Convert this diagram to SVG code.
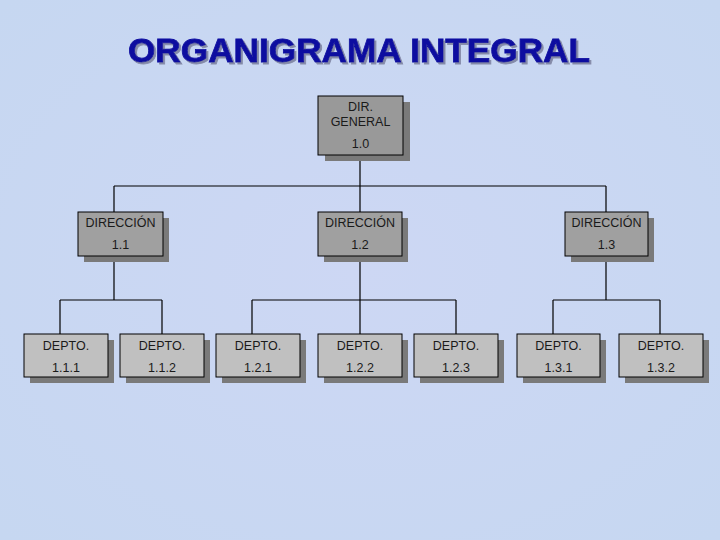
<svg xmlns="http://www.w3.org/2000/svg" width="720" height="540" viewBox="0 0 720 540">
<defs>
<style>
.sh{fill:#7a7a7a}
.b1{fill:#999999;stroke:#000;stroke-width:1}
.b2{fill:#a0a0a0;stroke:#000;stroke-width:1}
.b3{fill:#c0c0c0;stroke:#000;stroke-width:1}
.t{font-family:"Liberation Sans",Arial,sans-serif;font-size:12.5px;fill:#1a1a1a;text-anchor:middle}
.ln{stroke:#000;stroke-width:1.2;fill:none}
.ti{font-family:"Liberation Sans",Arial,sans-serif;font-weight:bold;font-size:33px;fill:#0b0ba0;stroke:#0b0ba0;stroke-width:0.8}
</style>
<radialGradient id="bgp" cx="50%" cy="50%" r="70%">
<stop offset="0" stop-color="#cdd7f4"/>
<stop offset="1" stop-color="#c6d7f1"/>
</radialGradient>
<filter id="tsh" x="-5%" y="-20%" width="110%" height="150%">
<feDropShadow dx="2" dy="2" stdDeviation="0.4" flood-color="#7d82a0" flood-opacity="0.9"/>
</filter>
</defs>
<rect x="0" y="0" width="720" height="540" fill="url(#bgp)"/>
<g id="title">
<text class="ti" x="128" y="62" filter="url(#tsh)" textLength="462" lengthAdjust="spacingAndGlyphs">ORGANIGRAMA INTEGRAL</text>
</g>
<g id="connectors">
<path class="ln" d="M360 161V186M114 186H606M114 186V212M360 186V212M606 186V212"/>
<path class="ln" d="M114 262V300M60 300H162M60 300V334M162 300V334"/>
<path class="ln" d="M360 262V300M252 300H456M252 300V334M360 300V334M456 300V334"/>
<path class="ln" d="M606 262V300M553 300H660M553 300V334M660 300V334"/>
</g>
<g id="n10">
<rect class="sh" x="325" y="102" width="85" height="59"/>
<rect class="b1" x="318" y="96" width="85" height="59"/>
<text class="t" x="360.5" y="111">DIR.</text>
<text class="t" x="360.5" y="126">GENERAL</text>
<text class="t" x="360.5" y="148">1.0</text>
</g>
<g id="n11">
<rect class="sh" x="84" y="218" width="85" height="44"/>
<rect class="b2" x="78" y="212" width="85" height="44"/>
<text class="t" x="120.5" y="227">DIRECCIÓN</text>
<text class="t" x="120.5" y="249">1.1</text>
</g>
<g id="n12">
<rect class="sh" x="324" y="218" width="84" height="44"/>
<rect class="b2" x="318" y="212" width="84" height="44"/>
<text class="t" x="360" y="227">DIRECCIÓN</text>
<text class="t" x="360" y="249">1.2</text>
</g>
<g id="n13">
<rect class="sh" x="571" y="218" width="83" height="44"/>
<rect class="b2" x="565" y="212" width="83" height="44"/>
<text class="t" x="606.5" y="227">DIRECCIÓN</text>
<text class="t" x="606.5" y="249">1.3</text>
</g>
<g id="n111">
<rect class="sh" x="30" y="340" width="84" height="43"/>
<rect class="b3" x="24" y="334" width="84" height="43"/>
<text class="t" x="66" y="350">DEPTO.</text>
<text class="t" x="66" y="372">1.1.1</text>
</g>
<g id="n112">
<rect class="sh" x="126" y="340" width="84" height="43"/>
<rect class="b3" x="120" y="334" width="84" height="43"/>
<text class="t" x="162" y="350">DEPTO.</text>
<text class="t" x="162" y="372">1.1.2</text>
</g>
<g id="n121">
<rect class="sh" x="222" y="340" width="84" height="43"/>
<rect class="b3" x="216" y="334" width="84" height="43"/>
<text class="t" x="258" y="350">DEPTO.</text>
<text class="t" x="258" y="372">1.2.1</text>
</g>
<g id="n122">
<rect class="sh" x="324" y="340" width="84" height="43"/>
<rect class="b3" x="318" y="334" width="84" height="43"/>
<text class="t" x="360" y="350">DEPTO.</text>
<text class="t" x="360" y="372">1.2.2</text>
</g>
<g id="n123">
<rect class="sh" x="420" y="340" width="84" height="43"/>
<rect class="b3" x="414" y="334" width="84" height="43"/>
<text class="t" x="456" y="350">DEPTO.</text>
<text class="t" x="456" y="372">1.2.3</text>
</g>
<g id="n131">
<rect class="sh" x="523" y="340" width="83" height="43"/>
<rect class="b3" x="517" y="334" width="83" height="43"/>
<text class="t" x="558.5" y="350">DEPTO.</text>
<text class="t" x="558.5" y="372">1.3.1</text>
</g>
<g id="n132">
<rect class="sh" x="625" y="340" width="84" height="43"/>
<rect class="b3" x="619" y="334" width="84" height="43"/>
<text class="t" x="661" y="350">DEPTO.</text>
<text class="t" x="661" y="372">1.3.2</text>
</g>
</svg>
